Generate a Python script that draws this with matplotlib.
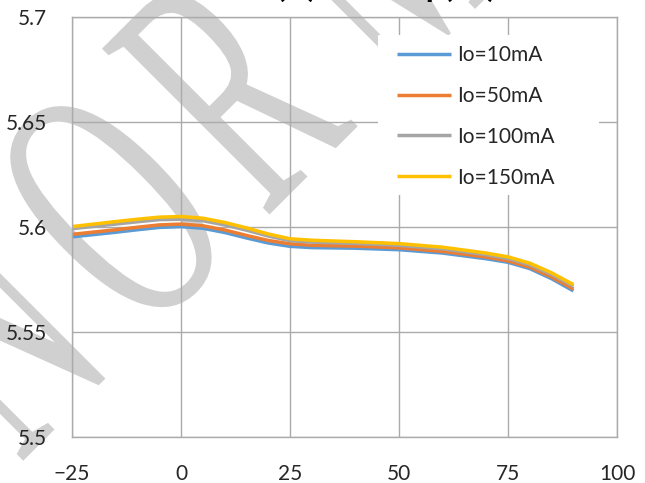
import numpy as np
import matplotlib.pyplot as plt
from matplotlib.textpath import TextPath
from matplotlib.patches import PathPatch, Rectangle
from matplotlib.font_manager import FontProperties
from matplotlib.transforms import Affine2D

plt.rcParams['font.family'] = ['Lato', 'DejaVu Sans']

# values (output voltage vs temperature)
temps = [-25, -20, -15, -10, -5, 0, 5, 10, 15, 20, 25, 30, 40, 50, 60, 70, 75, 80, 85, 90]
vo_10ma = [5.5951, 5.5962, 5.5973, 5.5985, 5.5996, 5.6000, 5.5992, 5.5972, 5.5946, 5.5922,
           5.5906, 5.5900, 5.5897, 5.5890, 5.5874, 5.5847, 5.5830, 5.5800, 5.5752, 5.5694]
vo_50ma = [5.5963, 5.5974, 5.5985, 5.5997, 5.6008, 5.6012, 5.6004, 5.5984, 5.5958, 5.5934,
           5.5918, 5.5911, 5.5907, 5.5899, 5.5882, 5.5855, 5.5837, 5.5807, 5.5760, 5.5703]
vo_100ma = [5.5990, 5.6001, 5.6012, 5.6023, 5.6033, 5.6035, 5.6028, 5.6008, 5.5983, 5.5955,
            5.5933, 5.5926, 5.5920, 5.5911, 5.5894, 5.5866, 5.5848, 5.5818, 5.5772, 5.5716]
vo_150ma = [5.6000, 5.6012, 5.6024, 5.6035, 5.6045, 5.6048, 5.6040, 5.6020, 5.5994, 5.5965,
            5.5942, 5.5935, 5.5928, 5.5919, 5.5902, 5.5874, 5.5856, 5.5826, 5.5780, 5.5724]

labels = ['Io=10mA', 'Io=50mA', 'Io=100mA', 'Io=150mA']
colors = ['#5B9BD5', '#ED7D31', '#A5A5A5', '#FFC000']
xticks = [-25, 0, 25, 50, 75, 100]
yticks = [5.5, 5.55, 5.6, 5.65, 5.7]
ytick_labels = ['5.5', '5.55', '5.6', '5.65', '5.7']
title = 'Vout(V) vs Temp(°C)'
watermark = 'NORM'

fig = plt.figure(figsize=(6.45, 4.83), dpi=100)
ax = fig.add_axes([0.1116, 0.0959, 0.8450, 0.8699])
ax.set_facecolor('none')

# big grey watermark behind the plot: narrow serif letters, letter-spaced,
# baseline running up-right at 45 deg (pixel coords)
fp = FontProperties(family='Liberation Serif')
letter_pos = [-315, -139, 32, 212]  # along the baseline, px
for ch, u0 in zip(watermark, letter_pos):
    p = TextPath((0, 0), ch, size=360, prop=fp)
    tr = Affine2D().scale(0.55, 1.0).translate(u0, 0).rotate_deg(45).translate(242, 241)
    fig.add_artist(PathPatch(p, facecolor='#d0d0d0', edgecolor='none',
                             transform=tr, zorder=-1))

series = [vo_10ma, vo_50ma, vo_100ma, vo_150ma]
for vals, lab, col in zip(series, labels, colors):
    ax.plot(temps, vals, color=col, lw=2.5, label=lab, solid_capstyle='butt')

ax.set_xlim(-25, 100)
ax.set_ylim(5.5, 5.7)
ax.set_xticks(xticks)
ax.set_yticks(yticks)
ax.set_yticklabels(ytick_labels)
ax.tick_params(length=0, labelsize=15, colors='#262626')
ax.tick_params(axis='y', pad=18)
ax.tick_params(axis='x', pad=20)
ax.grid(True, color='#ababab', lw=1.0)
ax.set_axisbelow(True)
for sp in ax.spines.values():
    sp.set_color('#ababab')
    sp.set_linewidth(1.0)

# white legend area (hides grid + watermark like the original)
ax.add_patch(Rectangle((0.5615, 0.575), 0.4055, 0.381, transform=ax.transAxes,
                       facecolor='white', edgecolor='none', zorder=2.5))
leg = ax.legend(loc='upper left', bbox_to_anchor=(0.5963, 0.932), borderaxespad=0,
                borderpad=0, frameon=False, fontsize=15, handlelength=2.6,
                handletextpad=0.3, labelspacing=1.0)
leg.set_zorder(5)
for t in leg.get_texts():
    t.set_color('#262626')

fig.text(0.544, 1 + 3 / 483, title, ha='center', va='baseline', fontsize=23,
         fontweight='bold', color='black')

fig.savefig('out.png', dpi=100)
